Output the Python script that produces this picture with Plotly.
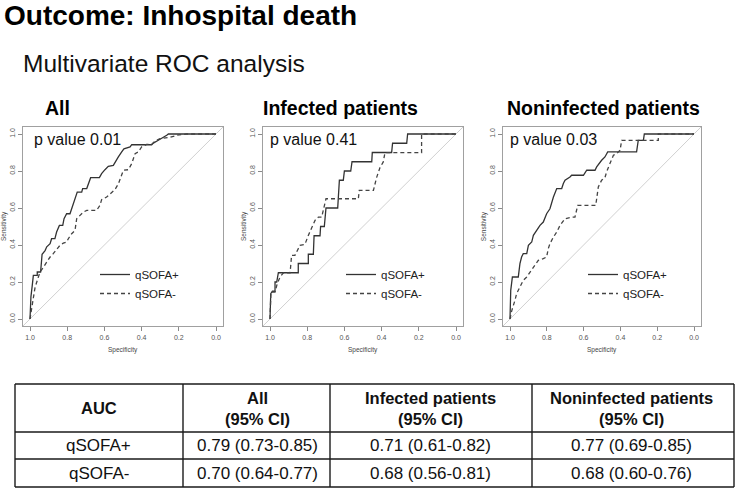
import plotly.graph_objects as go

W, H = 736, 489

# ---------------- data ----------------
main_title = "Outcome: Inhospital death"
sub_title = "Multivariate ROC analysis"
panel_titles = ["All", "Infected patients", "Noninfected patients"]
p_values = ["p value 0.01", "p value 0.41", "p value 0.03"]
series_names = ["qSOFA+", "qSOFA-"]
tick_vals = [1.0, 0.8, 0.6, 0.4, 0.2, 0.0]
tick_text = ["1.0", "0.8", "0.6", "0.4", "0.2", "0.0"]
x_label = "Specificity"
y_label = "Sensitivity"

all_pos_spec = [1.0, 0.995, 0.988, 0.982, 0.961, 0.961, 0.943, 0.935, 0.919, 0.910, 0.892, 0.884, 0.866, 0.857,
                0.842, 0.824, 0.817, 0.803, 0.785, 0.776, 0.763, 0.746, 0.722, 0.717, 0.695, 0.686, 0.674, 0.627,
                0.615, 0.597, 0.579, 0.552, 0.543, 0.525, 0.507, 0.495, 0.462, 0.453, 0.346, 0.337, 0.310, 0.283,
                0.265, 0.256, 0.0]
all_pos_sens = [0.0, 0.12, 0.18, 0.236, 0.236, 0.254, 0.254, 0.35, 0.37, 0.39, 0.407, 0.434, 0.434, 0.47,
                0.506, 0.506, 0.542, 0.569, 0.569, 0.596, 0.623, 0.686, 0.686, 0.705, 0.705, 0.73, 0.764, 0.764,
                0.786, 0.807, 0.825, 0.83, 0.843, 0.876, 0.903, 0.92, 0.93, 0.942, 0.942, 0.951, 0.966, 0.98,
                0.993, 1.0, 1.0]
all_neg_spec = [1.0, 0.991, 0.982, 0.973, 0.955, 0.946, 0.928, 0.910, 0.892, 0.875, 0.857, 0.839, 0.821, 0.803,
                0.794, 0.776, 0.758, 0.749, 0.731, 0.713, 0.695, 0.642, 0.624, 0.615, 0.588, 0.570, 0.543, 0.525,
                0.516, 0.498, 0.471, 0.453, 0.435, 0.418, 0.400, 0.373, 0.346, 0.328, 0.301, 0.274, 0.247, 0.211,
                0.185, 0.158, 0.0]
all_neg_sens = [0.0, 0.065, 0.12, 0.17, 0.227, 0.254, 0.28, 0.308, 0.335, 0.353, 0.375, 0.398, 0.41, 0.416,
                0.434, 0.461, 0.479, 0.542, 0.56, 0.578, 0.587, 0.587, 0.614, 0.645, 0.659, 0.677, 0.70, 0.73,
                0.759, 0.804, 0.807, 0.84, 0.894, 0.903, 0.93, 0.944, 0.944, 0.962, 0.975, 0.98, 0.982, 0.993,
                0.998, 1.0, 1.0]

inf_pos_spec = [1.0, 0.996, 0.987, 0.973, 0.973, 0.964, 0.955, 0.848, 0.848, 0.794, 0.794, 0.767, 0.763, 0.731,
                0.728, 0.708, 0.699, 0.636, 0.627, 0.606, 0.600, 0.566, 0.559, 0.453, 0.450, 0.346, 0.341, 0.265,
                0.260, 0.0]
inf_pos_sens = [0.0, 0.137, 0.15, 0.15, 0.2, 0.2, 0.25, 0.25, 0.3, 0.3, 0.35, 0.35, 0.45, 0.45,
                0.5, 0.5, 0.6, 0.6, 0.75, 0.75, 0.8, 0.8, 0.85, 0.85, 0.9, 0.9, 0.95, 0.95,
                1.0, 1.0]
inf_neg_spec = [1.0, 0.995, 0.973, 0.961, 0.946, 0.928, 0.892, 0.884, 0.866, 0.839, 0.812, 0.794, 0.758, 0.740,
                0.722, 0.713, 0.699, 0.525, 0.520, 0.444, 0.435, 0.427, 0.409, 0.391, 0.382, 0.185, 0.185, 0.0]
inf_neg_sens = [0.0, 0.146, 0.146, 0.191, 0.227, 0.249, 0.249, 0.344, 0.344, 0.398, 0.404, 0.452, 0.533, 0.551,
                0.551, 0.596, 0.65, 0.65, 0.695, 0.695, 0.741, 0.764, 0.818, 0.849, 0.899, 0.899, 1.0, 1.0]

non_pos_spec = [1.0, 0.996, 0.987, 0.955, 0.946, 0.937, 0.928, 0.909, 0.900, 0.882, 0.873, 0.855, 0.837, 0.819,
                0.801, 0.783, 0.774, 0.764, 0.746, 0.719, 0.710, 0.701, 0.674, 0.665, 0.601, 0.583, 0.538, 0.529,
                0.502, 0.484, 0.469, 0.312, 0.303, 0.275, 0.270, 0.0]
non_pos_sens = [0.0, 0.155, 0.227, 0.227, 0.299, 0.335, 0.353, 0.353, 0.398, 0.416, 0.452, 0.479, 0.506, 0.524,
                0.569, 0.596, 0.632, 0.659, 0.705, 0.705, 0.732, 0.750, 0.768, 0.777, 0.777, 0.804, 0.804, 0.822,
                0.858, 0.876, 0.903, 0.903, 0.966, 0.966, 1.0, 1.0]
non_neg_spec = [1.0, 0.991, 0.973, 0.964, 0.946, 0.928, 0.909, 0.891, 0.873, 0.846, 0.819, 0.801, 0.792, 0.783,
                0.764, 0.746, 0.728, 0.701, 0.661, 0.647, 0.632, 0.534, 0.520, 0.502, 0.484, 0.475, 0.457, 0.438,
                0.420, 0.402, 0.393, 0.384, 0.194, 0.194, 0.0]
non_neg_sens = [0.0, 0.043, 0.101, 0.137, 0.173, 0.209, 0.227, 0.254, 0.281, 0.317, 0.326, 0.335, 0.380, 0.407,
                0.443, 0.470, 0.506, 0.542, 0.551, 0.551, 0.614, 0.614, 0.714, 0.750, 0.764, 0.795, 0.840, 0.885,
                0.894, 0.912, 0.966, 0.966, 0.966, 1.0, 1.0]

table_header = ["AUC", "All<br>(95% CI)", "Infected patients<br>(95% CI)", "Noninfected patients<br>(95% CI)"]
table_row_labels = ["qSOFA+", "qSOFA-"]
auc_all = ["0.79 (0.73-0.85)", "0.70 (0.64-0.77)"]
auc_infected = ["0.71 (0.61-0.82)", "0.68 (0.56-0.81)"]
auc_noninfected = ["0.77 (0.69-0.85)", "0.68 (0.60-0.76)"]

# ---------------- layout helpers ----------------
FONT = "Liberation Sans, Arial, Helvetica, sans-serif"


def X(px):
    return px / W


def Y(py):
    return 1 - py / H


curves = [
    ((all_pos_spec, all_pos_sens), (all_neg_spec, all_neg_sens)),
    ((inf_pos_spec, inf_pos_sens), (inf_neg_spec, inf_neg_sens)),
    ((non_pos_spec, non_pos_sens), (non_neg_spec, non_neg_sens)),
]
# pixel position of specificity = 1, pixel length of one unit
panel_x0 = [30, 270, 510]
panel_unit = [186, 186, 184]
y_top_px, y_unit = 134, 185  # sensitivity = 1 at 134px
legend_text_x = [137, 383, 625]

fig = go.Figure()
layout = dict(
    width=W, height=H, margin=dict(l=0, r=0, t=0, b=0),
    paper_bgcolor="white", plot_bgcolor="white",
    font=dict(family=FONT, color="#111"),
    showlegend=True,
)
annotations = []
shapes = []

box_top = y_top_px - 0.04 * y_unit
box_bot = y_top_px + 1.04 * y_unit

for i in range(3):
    sfx = "" if i == 0 else str(i + 1)
    x0, u = panel_x0[i], panel_unit[i]
    left, right = x0 - 0.04 * u, x0 + 1.04 * u
    leg = "legend" + sfx
    (ps, pv), (ns, nv) = curves[i]
    fig.add_trace(go.Scatter(x=ps, y=pv, mode="lines", name=series_names[0],
                             line=dict(color="#333333", width=1.3),
                             xaxis="x" + sfx, yaxis="y" + sfx, legend=leg, hoverinfo="skip"))
    fig.add_trace(go.Scatter(x=ns, y=nv, mode="lines", name=series_names[1],
                             line=dict(color="#444444", width=1.3, dash="4px,3px"),
                             xaxis="x" + sfx, yaxis="y" + sfx, legend=leg, hoverinfo="skip"))
    axis_common = dict(showline=True, mirror=True, linecolor="#a0a0a0", linewidth=1,
                       ticks="outside", ticklen=4, tickwidth=1, tickcolor="#8a8a8a",
                       showgrid=False, zeroline=False, fixedrange=True,
                       tickvals=tick_vals, ticktext=tick_text,
                       tickfont=dict(size=7, color="#555", family=FONT))
    layout["xaxis" + sfx] = dict(axis_common, domain=[X(left), X(right)], range=[1.04, -0.04],
                                 anchor="y" + sfx)
    layout["yaxis" + sfx] = dict(axis_common, domain=[Y(box_bot), Y(box_top)], range=[-0.04, 1.04],
                                 anchor="x" + sfx, tickangle=-90)
    layout[leg] = dict(x=X(legend_text_x[i] - 42), y=Y(260), xanchor="left", yanchor="top",
                       bgcolor="rgba(0,0,0,0)", borderwidth=0, itemwidth=30,
                       font=dict(size=11.5, color="#222", family=FONT), tracegroupgap=0)
    # identity line
    shapes.append(dict(type="line", xref="x" + sfx, yref="y" + sfx, x0=1.04, y0=-0.04, x1=-0.04, y1=1.04,
                       line=dict(color="#d0d0d0", width=1), layer="below"))
    # panel title
    annotations.append(dict(text="<b>%s</b>" % panel_titles[i], x=X([43, 261, 505][i]), y=Y(108.5),
                            xref="paper", yref="paper", xanchor="left", yanchor="middle",
                            showarrow=False, font=dict(size=19.5, color="#000")))
    # p value
    annotations.append(dict(text=p_values[i], x=X([32, 268, 508][i]), y=Y(139),
                            xref="paper", yref="paper", xanchor="left", yanchor="middle",
                            showarrow=False, font=dict(size=16, color="#111")))
    # axis labels
    annotations.append(dict(text=x_label, x=X((left + right) / 2), y=Y(350),
                            xref="paper", yref="paper", xanchor="center", yanchor="middle",
                            showarrow=False, font=dict(size=6.5, color="#444")))
    annotations.append(dict(text=y_label, x=X(left - 19), y=Y((box_top + box_bot) / 2),
                            xref="paper", yref="paper", xanchor="center", yanchor="middle",
                            textangle=-90, showarrow=False, font=dict(size=6.5, color="#444")))

# titles
annotations.append(dict(text="<b>%s</b>" % main_title, x=X(2), y=Y(15), xref="paper", yref="paper",
                        xanchor="left", yanchor="middle", showarrow=False, font=dict(size=28, color="#000")))
annotations.append(dict(text=sub_title, x=X(21), y=Y(63), xref="paper", yref="paper",
                        xanchor="left", yanchor="middle", showarrow=False, font=dict(size=24.5, color="#111")))

# table
col_edges = [15, 183, 330, 532, 734]
row_edges = [384, 432, 459, 487]
col_centers = [99, 257, 430, 631]
for xe in col_edges:
    shapes.append(dict(type="line", xref="paper", yref="paper", x0=X(xe), x1=X(xe),
                       y0=Y(row_edges[0]), y1=Y(row_edges[-1]), line=dict(color="#1a1a1a", width=1.4)))
for ye in row_edges:
    shapes.append(dict(type="line", xref="paper", yref="paper", x0=X(col_edges[0]), x1=X(col_edges[-1]),
                       y0=Y(ye), y1=Y(ye), line=dict(color="#1a1a1a", width=1.4)))
for j, txt in enumerate(table_header):
    annotations.append(dict(text="<b>%s</b>" % txt.replace("<br>", "</b><br><b>"), x=X(col_centers[j]),
                            y=Y((row_edges[0] + row_edges[1]) / 2), xref="paper", yref="paper",
                            xanchor="center", yanchor="middle", showarrow=False,
                            font=dict(size=16.5, color="#111")))
body_cols = [table_row_labels, auc_all, auc_infected, auc_noninfected]
for r in range(2):
    yc = (row_edges[r + 1] + row_edges[r + 2]) / 2
    for j in range(4):
        annotations.append(dict(text=body_cols[j][r], x=X(col_centers[j]), y=Y(yc), xref="paper", yref="paper",
                                xanchor="center", yanchor="middle", showarrow=False,
                                font=dict(size=17, color="#111")))

layout["annotations"] = annotations
layout["shapes"] = shapes
fig.update_layout(**layout)
fig.write_html("out.html", config={"displayModeBar": False},
               post_script="document.body.style.margin='0';document.body.style.overflow='hidden';")
